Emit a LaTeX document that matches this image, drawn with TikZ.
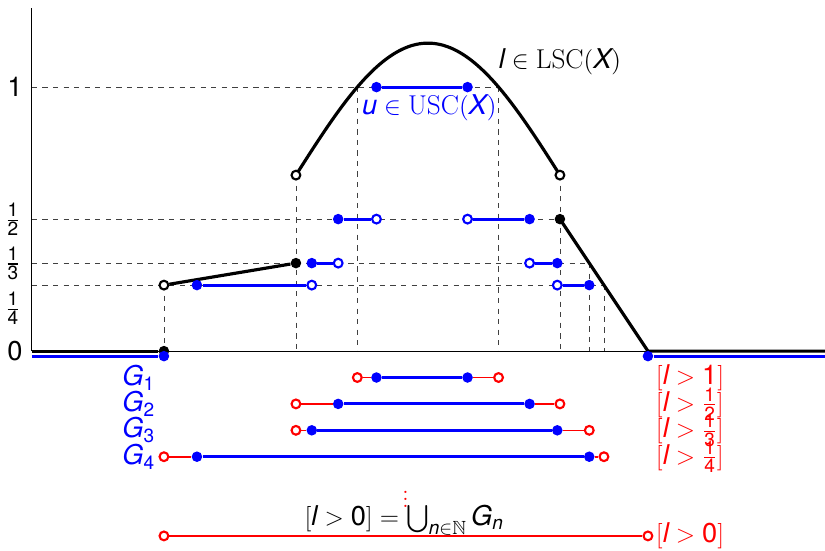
\documentclass[tikz,border=0pt]{standalone}
\usepackage{amsmath,amssymb}
\usepackage{fontspec}
\setsansfont{TeX Gyre Heros}
\usetikzlibrary{calc}

\newcommand{\sv}[1]{\text{\sffamily\itshape #1}}
\newcommand{\sn}[1]{\text{\sffamily #1}}

\begin{document}
\begin{tikzpicture}[
        x=2.64cm, y=5.28cm,
        font=\fontsize{15.5}{18}\selectfont,
        fdot/.style={circle, fill=#1, inner sep=0pt, minimum size=6pt},
        fdot/.default=black,
        odot/.style={circle, draw=#1, fill=white, line width=1.2pt, inner sep=0pt, minimum size=5pt},
        odot/.default=black,
        graph/.style={draw=black, line width=1.8pt},
        useg/.style={draw=blue, line width=1.8pt},
        lseg/.style={draw=red, line width=0.9pt},
        guide/.style={draw=black!75, dashed, line width=0.5pt},
        axis/.style={draw=black, line width=0.6pt}
    ]
        \useasboundingbox (-0.242,-0.754) rectangle (6.008,1.33);

        \coordinate (O) at (0,0);
        \coordinate (xend) at (6.01,0);
        \coordinate (ytop) at (0,1.3);
        \coordinate (jump) at (1,1/4);
        \coordinate (kink) at (2,1/3);
        \coordinate (capl) at (2,2/3);
        \coordinate (capr) at (4,2/3);
        \coordinate (knee) at (4,1/2);
        \coordinate (foot) at (14/3,0);
        \coordinate (c1a) at (2.465,1);
        \coordinate (c1b) at (3.535,1);
        \coordinate (c3) at (38/9,1/3);
        \coordinate (c4) at (13/3,1/4);

        \draw[guide] (O |- c1b) -- (c1b);
        \draw[guide] (O |- knee) -- (knee);
        \draw[guide] (O |- c3) -- (c3);
        \draw[guide] (O |- c4) -- (c4);
        \draw[guide] (jump) -- (jump |- O);
        \draw[guide] (capl) -- (capl |- O);
        \draw[guide] (c1a) -- (c1a |- O);
        \draw[guide] (c1b) -- (c1b |- O);
        \draw[guide] (capr) -- (capr |- O);
        \draw[guide] (c3) -- (c3 |- O);
        \draw[guide] (c4) -- (c4 |- O);

        \draw[axis] (O) -- (xend);
        \draw[axis] (O) -- (ytop);

        \draw[graph] plot[domain=2:4, samples=60, smooth] (\x,{2/3+0.5*cos(90*(\x-3))});
        \draw[graph] (knee) -- (foot) -- (xend);

        \node[fdot] (l0) at (jump |- O) {};
        \node[odot] (la) at (jump) {};
        \node[fdot] (lb) at (kink) {};
        \node[odot] (lc) at (capl) {};
        \node[odot] (ld) at (capr) {};
        \node[fdot] (le) at (knee) {};

        \draw[graph] (O) -- (l0);
        \draw[graph] (la) -- (lb);

        \coordinate (ul) at (0,-0.019);
        \coordinate (ur) at (6.01,-0.019);
        \node[fdot=blue] (u0) at (1,-0.019) {};
        \node[fdot=blue] (u9) at (14/3,-0.019) {};
        \draw[useg] (ul) -- (u0);
        \draw[useg] (u9) -- (ur);

        \node[fdot=blue] (u1a) at (2.61,1) {};
        \node[fdot=blue] (u1b) at (3.30,1) {};
        \node[fdot=blue] (u2a) at (2.32,1/2) {};
        \node[odot=blue] (u2b) at (2.61,1/2) {};
        \node[odot=blue] (u2c) at (3.30,1/2) {};
        \node[fdot=blue] (u2d) at (3.77,1/2) {};
        \node[fdot=blue] (u3a) at (2.12,1/3) {};
        \node[odot=blue] (u3b) at (2.32,1/3) {};
        \node[odot=blue] (u3c) at (3.77,1/3) {};
        \node[fdot=blue] (u3d) at (3.98,1/3) {};
        \node[fdot=blue] (u4a) at (1.25,1/4) {};
        \node[odot=blue] (u4b) at (2.12,1/4) {};
        \node[odot=blue] (u4c) at (3.98,1/4) {};
        \node[fdot=blue] (u4d) at (38/9,1/4) {};

        \draw[useg] (u1a) -- (u1b);
        \draw[useg] (u2a) -- (u2b);
        \draw[useg] (u2c) -- (u2d);
        \draw[useg] (u3a) -- (u3b);
        \draw[useg] (u3c) -- (u3d);
        \draw[useg] (u4a) -- (u4b);
        \draw[useg] (u4c) -- (u4d);

        \node (yone) at (-0.129,1) {\sffamily 1};
        \node (yzero) at (-0.129,0) {\sffamily 0};
        \node (yhalf) at (-0.144,1/2) {$\frac{\sn{1}}{\sn{2}}$};
        \node (ythird) at (-0.144,1/3) {$\frac{\sn{1}}{\sn{3}}$};
        \node (yquarter) at (-0.144,0.163) {$\frac{\sn{1}}{\sn{4}}$};

        \node (lname) at (4.0,1.095) {$\sv{l} \in \mathrm{LSC}(\sv{X})$};
        \node[blue] (uname) at (3.01,0.92) {$\sv{u} \in \mathrm{USC}(\sv{X})$};

        \node[odot=red] (r1a) at (2.465,-0.1) {};
        \node[fdot=blue] (g1a) at (2.61,-0.1) {};
        \node[fdot=blue] (g1b) at (3.30,-0.1) {};
        \node[odot=red] (r1b) at (3.535,-0.1) {};
        \node[odot=red] (r2a) at (2,-0.2) {};
        \node[fdot=blue] (g2a) at (2.32,-0.2) {};
        \node[fdot=blue] (g2b) at (3.77,-0.2) {};
        \node[odot=red] (r2b) at (4,-0.2) {};
        \node[odot=red] (r3a) at (2,-0.3) {};
        \node[fdot=blue] (g3a) at (2.12,-0.3) {};
        \node[fdot=blue] (g3b) at (3.98,-0.3) {};
        \node[odot=red] (r3b) at (38/9,-0.3) {};
        \node[odot=red] (r4a) at (1,-0.4) {};
        \node[fdot=blue] (g4a) at (1.25,-0.4) {};
        \node[fdot=blue] (g4b) at (38/9,-0.4) {};
        \node[odot=red] (r4b) at (13/3,-0.4) {};
        \node[odot=red] (r0a) at (1,-0.7) {};
        \node[odot=red] (r0b) at (14/3,-0.7) {};

        \draw[lseg] (r1a) -- (g1a);
        \draw[lseg] (g1b) -- (r1b);
        \draw[lseg] (r2a) -- (g2a);
        \draw[lseg] (g2b) -- (r2b);
        \draw[lseg] (r3a) -- (g3a);
        \draw[lseg] (g3b) -- (r3b);
        \draw[lseg] (r4a) -- (g4a);
        \draw[lseg] (g4b) -- (r4b);
        \draw[lseg] (r0a) -- (r0b);
        \draw[useg] (g1a) -- (g1b);
        \draw[useg] (g2a) -- (g2b);
        \draw[useg] (g3a) -- (g3b);
        \draw[useg] (g4a) -- (g4b);

        \node[blue, anchor=east] (gname1) at (0.98,-0.1) {$\sv{G}_{\sn{1}}$};
        \node[blue, anchor=east] (gname2) at (0.98,-0.2) {$\sv{G}_{\sn{2}}$};
        \node[blue, anchor=east] (gname3) at (0.98,-0.3) {$\sv{G}_{\sn{3}}$};
        \node[blue, anchor=east] (gname4) at (0.98,-0.4) {$\sv{G}_{\sn{4}}$};

        \node[red, anchor=west] (lev1) at (4.68,-0.1) {$[\sv{l} > \sn{1}]$};
        \node[red, anchor=west] (lev2) at (4.68,-0.2) {$[\sv{l} > \frac{\sn{1}}{\sn{2}}]$};
        \node[red, anchor=west] (lev3) at (4.68,-0.3) {$[\sv{l} > \frac{\sn{1}}{\sn{3}}]$};
        \node[red, anchor=west] (lev4) at (4.68,-0.4) {$[\sv{l} > \frac{\sn{1}}{\sn{4}}]$};
        \node[red, anchor=west] (lev0) at (4.68,-0.7) {$[\sv{l} > \sn{0}]$};

        \node[red] (more) at (2.83,-0.54) {$\vdots$};
        \node (union) at (2.82,-0.64) {$[\sv{l} > \sn{0}] = \bigcup_{\sv{n} \in \mathbb{N}} \sv{G}_{\sv{n}}$};
    \end{tikzpicture}
\end{document}
